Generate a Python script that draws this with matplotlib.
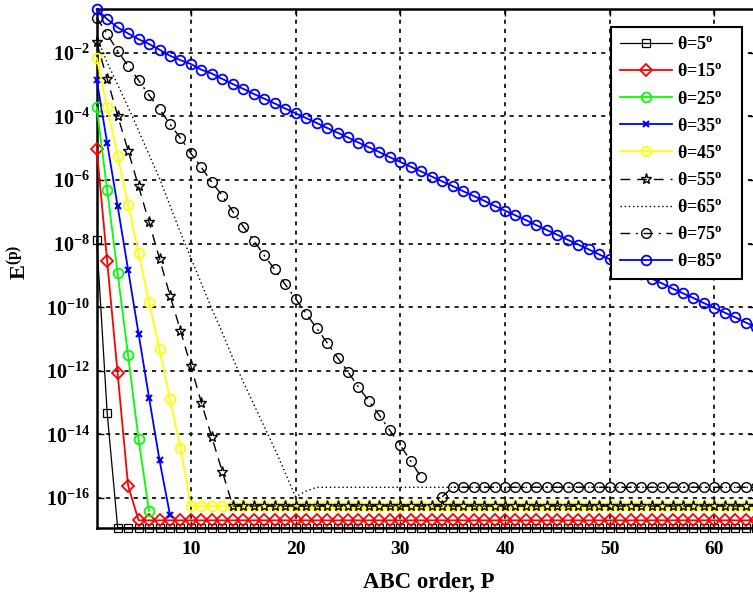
import numpy as np
import matplotlib
matplotlib.use("Agg")
import matplotlib.pyplot as plt
from matplotlib.ticker import FixedLocator, NullLocator

plt.rcParams['font.family'] = ['Liberation Serif', 'DejaVu Serif']
plt.rcParams['font.weight'] = 'bold'
plt.rcParams['mathtext.default'] = 'regular'

# ABC order P = 1..64 ; values are log10 of E^(p)
P = np.arange(1, 65)

log_e5 = [-7.88, -13.32] + [-16.93] * 62
log_e15 = [-5.02, -8.55, -12.08, -15.61] + [-16.70] * 60
log_e25 = [-3.71, -6.31, -8.93, -11.51, -14.15, -16.40] + [np.nan] * 58
log_e35 = [-2.84, -4.84, -6.82, -8.82, -10.83, -12.84, -14.81, -16.53] + [np.nan] * 56
log_e45 = [-2.16, -3.71, -5.23, -6.77, -8.30, -9.84, -11.32, -12.89, -14.41] + [-16.25] * 55
log_e55 = [-1.67, -2.82, -3.97, -5.07, -6.20, -7.32, -8.47, -9.63, -10.73, -11.86,
           -13.00, -14.09, -15.17] + [-16.25] * 51
log_e65 = [-1.50, -2.30, -3.00, -3.70, -4.45, -5.20, -5.95, -6.80, -7.65, -8.45,
           -9.25, -10.05, -10.80, -11.60, -12.35, -13.05, -13.75, -14.45, -15.20, -15.96,
           -15.78] + [-15.66] * 43
log_e75 = [-0.89, -1.41, -1.94, -2.41, -2.86, -3.33, -3.77, -4.24, -4.68, -5.16,
           -5.60, -6.07, -6.49, -6.99, -7.46, -7.90, -8.37, -8.81, -9.28, -9.73,
           -10.20, -10.65, -11.11, -11.58, -12.03, -12.51, -12.95, -13.40, -13.87, -14.34,
           -14.84, -15.35, np.nan, -15.96] + [-15.66] * 30
log_e85 = [-0.62, -0.94, -1.20, -1.39, -1.57, -1.72, -1.90, -2.09, -2.23, -2.35,
           -2.53, -2.65, -2.82, -2.98, -3.13, -3.29, -3.44, -3.59, -3.75, -3.90,
           -4.05, -4.20, -4.36, -4.51, -4.66, -4.82, -4.97, -5.12, -5.28, -5.43,
           -5.58, -5.73, -5.89, -6.04, -6.19, -6.35, -6.50, -6.65, -6.81, -6.96,
           -7.11, -7.26, -7.42, -7.57, -7.72, -7.88, -8.03, -8.18, -8.34, -8.49,
           -8.64, -8.79, -8.95, -9.10, -9.25, -9.41, -9.56, -9.71, -9.87, -10.02,
           -10.17, -10.32, -10.48, -10.63]

angles = ['5', '15', '25', '35', '45', '55', '65', '75', '85']
series = [log_e5, log_e15, log_e25, log_e35, log_e45, log_e55, log_e65, log_e75, log_e85]

styles = [
    dict(color='k', ls='-', marker='s', ms=5.5, mfc='none', lw=0.9, mew=0.9),
    dict(color='#FF0000', ls='-', marker='D', ms=6.3, mfc='none', lw=1.3, mew=1.3),
    dict(color='#00FF00', ls='-', marker='o', ms=7, mfc='none', lw=1.3, mew=1.3),
    dict(color='#0000FF', ls='-', marker='x', ms=5, mfc='none', lw=1.3, mew=1.5),
    dict(color='#FFFF00', ls='-', marker='o', ms=7, mfc='none', lw=1.3, mew=1.3),
    dict(color='k', ls=(0, (7, 5)), marker='*', ms=8, mfc='none', lw=1.0, mew=1.0),
    dict(color='k', ls=(0, (1, 2)), marker='None', lw=1.0),
    dict(color='k', ls=(0, (7, 4, 1.5, 4)), marker='o', ms=7, mfc='none', lw=1.0, mew=1.0),
    dict(color='#0000FF', ls='-', marker='o', ms=7, mfc='none', lw=1.3, mew=1.3),
]

W, H = 753, 596
fig = plt.figure(figsize=(W / 100, H / 100), dpi=100)
left, right, top, bottom = 96.7, 756.3, 9.0, 528.3
ax = fig.add_axes([left / W, 1 - bottom / H, (right - left) / W, (bottom - top) / H])

handles = []
for ang, vals, st in zip(angles, series, styles):
    y = 10.0 ** np.array(vals, dtype=float)
    h, = ax.semilogy(P, y, label='θ=' + ang + r'$^{\mathregular{o}}$   ', clip_on=False, **st)
    handles.append(h)

ax.set_xlim(1, 64)
ax.set_ylim(10 ** -16.95, 10 ** -0.62)

xt = [10, 20, 30, 40, 50, 60]
ax.xaxis.set_major_locator(FixedLocator(xt))
ax.set_xticklabels([str(v) for v in xt], fontsize=14, fontweight='bold')
yexp = [-16, -14, -12, -10, -8, -6, -4, -2]
ax.yaxis.set_major_locator(FixedLocator([10.0 ** e for e in yexp]))
ax.yaxis.set_minor_locator(NullLocator())
ax.set_yticklabels([r'$\mathregular{10^{%d}}$' % e for e in yexp], fontsize=14.5, fontweight='bold')
ax.tick_params(axis='both', which='major', direction='in', length=5, width=1,
               top=True, right=True)
ax.tick_params(axis='x', pad=9)
ax.tick_params(axis='y', pad=5)

ax.grid(True, which='major', color='k', linestyle=(0, (2.5, 3)), linewidth=1.2)
ax.set_axisbelow(True)
for sp in ax.spines.values():
    sp.set_linewidth(1.8)
    sp.set_zorder(0.5)

fig.text(428.5 / W, 1 - 587.5 / H, 'ABC order, P', ha='center', va='baseline',
         fontsize=16.5, fontweight='bold')
fig.text(20 / W, 1 - 262 / H, r'E$^{\mathregular{(p)}}$', ha='center', va='center',
         rotation=90, fontsize=16, fontweight='bold')

leg = ax.legend(handles=handles, loc='upper right',
                bbox_to_anchor=(741.7 / W, 1 - 27.3 / H), bbox_transform=fig.transFigure,
                borderaxespad=0, handlelength=2.9, handletextpad=0.28, labelspacing=0.56,
                borderpad=0.5, fancybox=False, framealpha=1, edgecolor='k',
                prop=dict(family='Liberation Serif', weight='bold', size=13))
leg.get_frame().set_linewidth(1.5)
leg.set_zorder(10)

fig.savefig('out.png', dpi=100)
